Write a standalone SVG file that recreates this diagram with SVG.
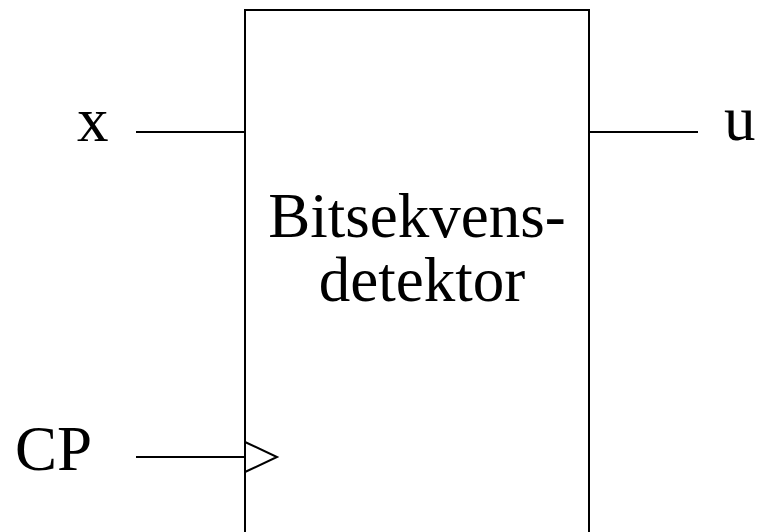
<svg xmlns="http://www.w3.org/2000/svg" width="758" height="532" viewBox="0 0 758 532">
  <style>
    .wire { stroke: #000; stroke-width: 2; fill: none; }
    .lbl { font-family: "Liberation Serif", "Times New Roman", serif; font-size: 63px; fill: #000; }
  </style>
  <rect width="758" height="532" fill="#fff"/>
  <g id="detector">
    <rect x="245" y="10" width="344" height="540" class="wire"/>
    <text class="lbl" x="417" y="237" text-anchor="middle">Bitsekvens-</text>
    <text class="lbl" x="422" y="301" text-anchor="middle">detektor</text>
    <polyline points="245,442 277,457 245,472" class="wire"/>
  </g>
  <g id="input-x">
    <text class="lbl" x="77" y="141">x</text>
  </g>
  <g id="input-cp">
    <text class="lbl" x="15" y="470">CP</text>
  </g>
  <g id="output-u">
    <text class="lbl" x="724" y="140">u</text>
  </g>
  <g id="connectors">
    <line x1="136" y1="132" x2="245" y2="132" class="wire"/>
    <line x1="136" y1="457" x2="245" y2="457" class="wire"/>
    <line x1="589" y1="132" x2="698" y2="132" class="wire"/>
  </g>
</svg>
